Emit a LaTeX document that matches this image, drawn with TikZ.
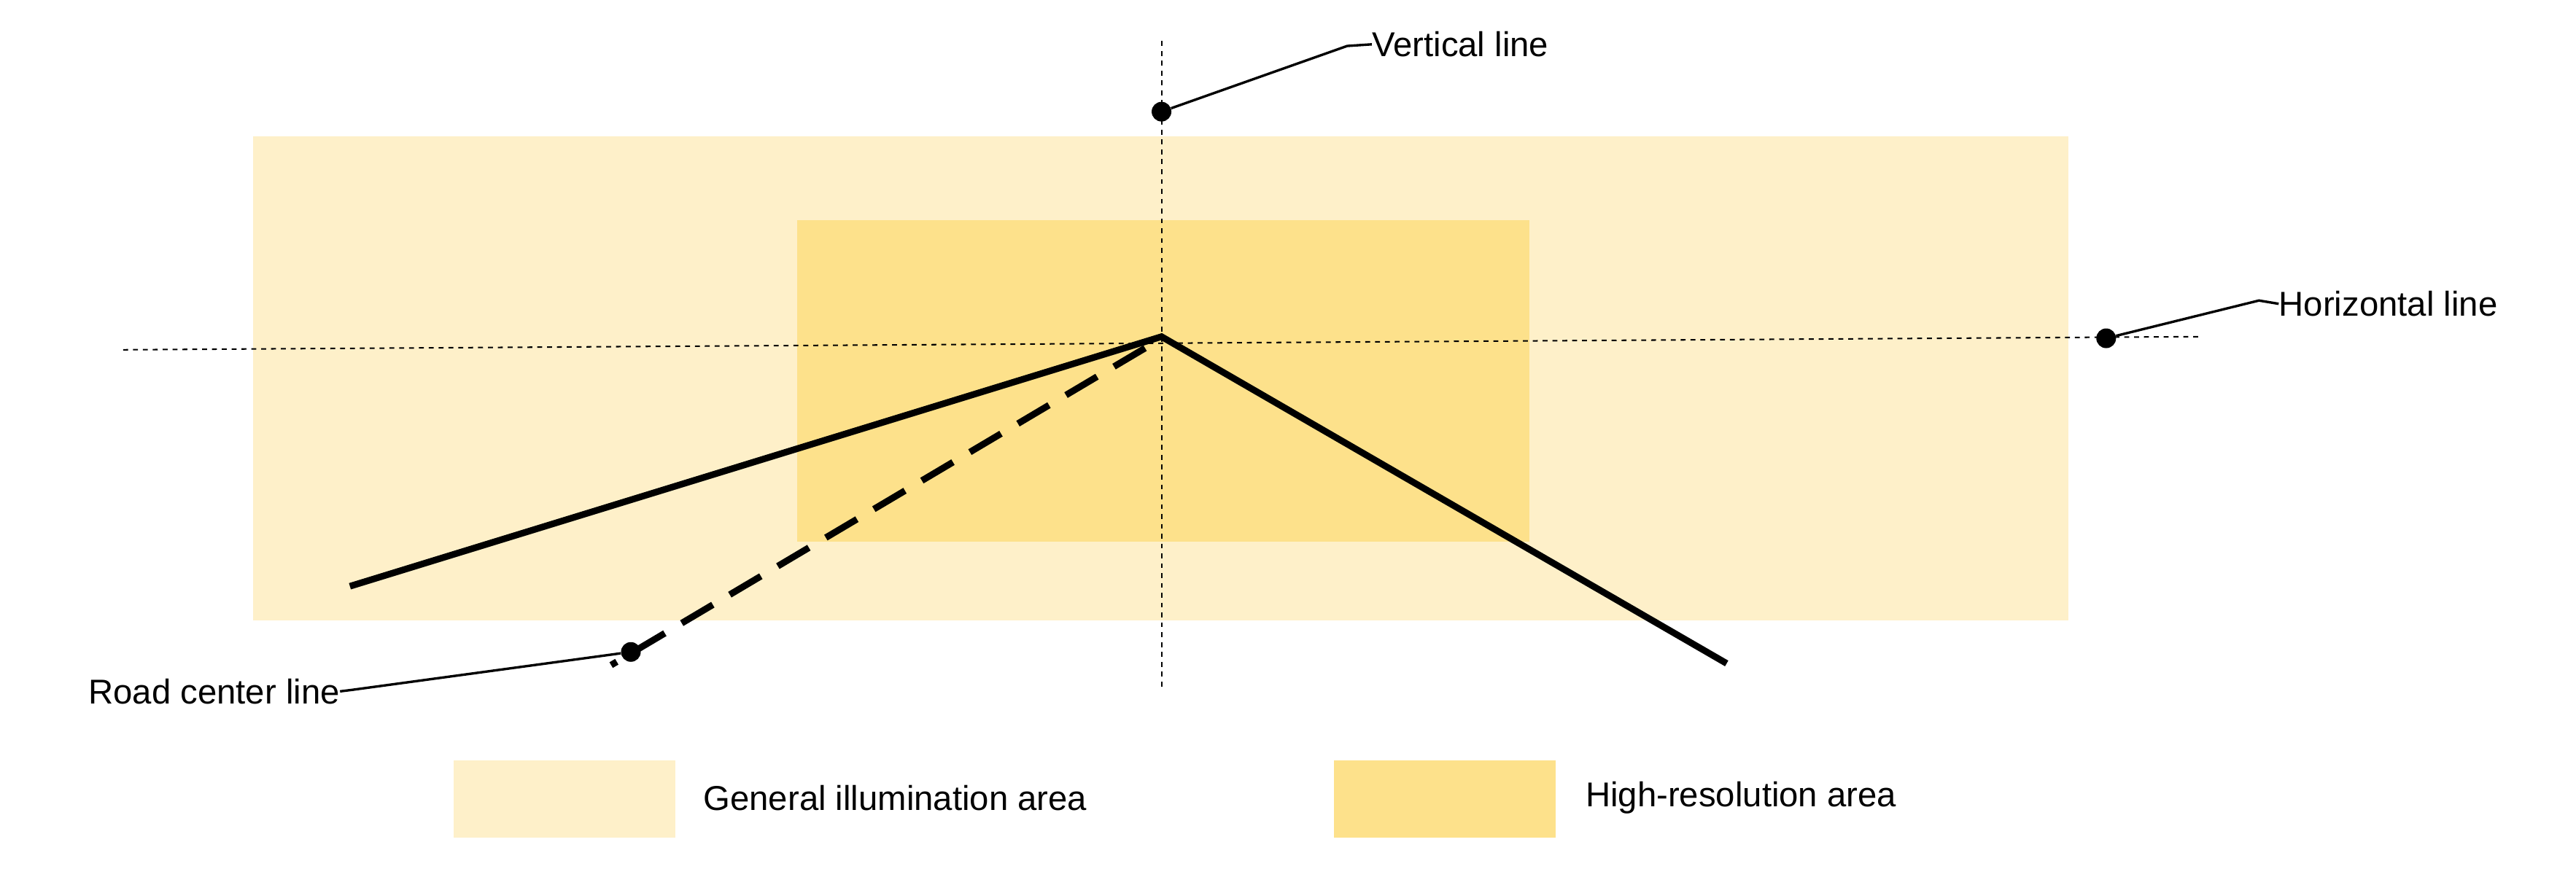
\documentclass[tikz,border=0pt]{standalone}
\usepackage{fontspec}
\setmainfont{Liberation Sans}
\definecolor{gen}{HTML}{FEF0C9}
\definecolor{high}{HTML}{FDE18B}
\begin{document}
\begin{tikzpicture}[x=1pt,y=-1pt,
  lbl/.style={font=\fontsize{21}{25}\selectfont,inner sep=0pt},
  dot/.style={circle,fill=black,inner sep=0pt,minimum size=12pt},
  lead/.style={line width=1.5pt},
  guide/.style={dashed,line width=0.9pt},
  road/.style={line width=4pt}]
\useasboundingbox (0,0) rectangle (1568,529);
\fill[gen] (154,83) rectangle (1259,378);
\fill[high] (485,134) rectangle (931,330);
\coordinate (vt) at (707,25); \coordinate (vb) at (707,420);
\coordinate (hl) at (75,213); \coordinate (hr) at (1338,205);
\draw[guide] (vt) -- (vb);
\draw[guide] (hl) -- (hr);
\coordinate (apex) at (707,205);
\coordinate (le) at (213,357); \coordinate (re) at (1051,404);
\coordinate (da) at (697,212); \coordinate (de) at (372,405);
\draw[road,line join=miter] (le) -- (apex) -- (re);
\draw[road,dash pattern=on 22pt off 12pt] (da) -- (de);
\node[dot] (d1) at (707,68) {};
\node[dot] (d2) at (1282,206) {};
\node[dot] (d3) at (384,397) {};
\node[lbl,anchor=west] (t1) at (835,27) {Vertical line};
\node[lbl,anchor=west] (t2) at (1387,185) {Horizontal line};
\node[lbl,anchor=east] (t3) at (207,421) {Road center line};
\draw[lead] (d1) -- (820,28) -- (t1.west);
\draw[lead] (d2) -- (1375,183) -- (t2.west);
\draw[lead] (d3) -- (215,420) -- (t3.east);
\fill[gen] (276,463) rectangle (411,510);
\fill[high] (812,463) rectangle (947,510);
\node[lbl,anchor=west] (g) at (428,486) {General illumination area};
\node[lbl,anchor=west] (h) at (965,486) {High-resolution area};
\end{tikzpicture}
\end{document}
